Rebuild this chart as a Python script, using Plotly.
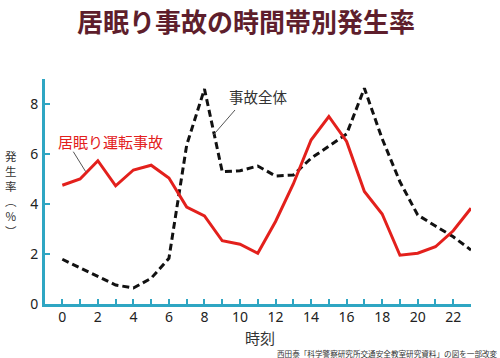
import plotly.graph_objects as go

hours = list(range(24))
drowsy = [4.75, 5.0, 5.73, 4.73, 5.36, 5.55, 5.04, 3.88, 3.52, 2.53, 2.39, 2.03,
          3.3, 4.8, 6.56, 7.5, 6.5, 4.5, 3.6, 1.95, 2.03, 2.29, 2.93, 3.83]
overall = [1.79, 1.45, 1.09, 0.76, 0.64, 1.03, 1.83, 6.36, 8.6, 5.29, 5.33, 5.52,
           5.12, 5.16, 5.83, 6.3, 6.8, 8.63, 6.61, 4.89, 3.56, 3.12, 2.69, 2.16]
x_tick_vals = list(range(0, 23, 2))
y_tick_vals = [0, 2, 4, 6, 8]

W, H = 500, 358
L, R, T, B = 45, 471, 79, 304
TEAL = "#2fa6c3"
RED = "#e3201c"
FONT = "Noto Sans CJK JP"


def px(x, y):
    return (x - L) / (R - L), (B - y) / (B - T)


fig = go.Figure()
fig.add_trace(go.Scatter(x=hours, y=overall, mode="lines", name="事故全体",
                         line=dict(color="#111111", width=3, dash="7px,4px"),
                         cliponaxis=False, hoverinfo="skip"))
fig.add_trace(go.Scatter(x=hours, y=drowsy, mode="lines", name="居眠り運転事故",
                         line=dict(color=RED, width=3), cliponaxis=False, hoverinfo="skip"))

ann = []


def text(s, x, y, size, color, bold=False, angle=0, xanchor="center"):
    ax, ay = px(x, y)
    ann.append(dict(text=f"<b>{s}</b>" if bold else s, x=ax, y=ay, xref="paper", yref="paper",
                    showarrow=False, xanchor=xanchor, yanchor="middle", textangle=angle,
                    font=dict(family=FONT, size=size, color=color)))


text("居眠り事故の時間帯別発生率", 246, 20, 26, "#5e1e2c", bold=True)
text("居眠り運転事故", 110, 141, 15, RED)
text("事故全体", 258.5, 97, 14.5, "#333333")
text("発<br>生<br>率<br>︵<br>%<br>︶", 11, 193, 11.5, "#333333")
text("時刻", 260, 337, 15, "#333333")
text("西田泰「科学警察研究所交通安全教室研究資料」の図を一部改変", 500, 353, 7.6, "#333333",
     xanchor="right")

shapes = []
for (x0, y0, x1, y1) in [(73.3, 151.7, 85.7, 171.7), (235, 110, 213.3, 135)]:
    a0, b0 = px(x0, y0)
    a1, b1 = px(x1, y1)
    shapes.append(dict(type="line", xref="paper", yref="paper", x0=a0, y0=b0, x1=a1, y1=b1,
                       line=dict(color="#555555", width=1)))

fig.update_layout(
    width=W, height=H,
    margin=dict(l=L, r=W - R, t=T, b=H - B, pad=0),
    paper_bgcolor="white", plot_bgcolor="white",
    showlegend=False, hovermode=False,
    annotations=ann, shapes=shapes,
    font=dict(family="Noto Sans", size=14, color="#222222"),
    xaxis=dict(range=[-0.975, 23.0], tickvals=x_tick_vals, ticks="inside", ticklen=5,
               tickwidth=2, tickcolor=TEAL, showline=True, linecolor=TEAL, linewidth=3,
               showgrid=False, zeroline=False, ticklabelstandoff=-2,
               minor=dict(dtick=1, tick0=0, ticks="inside", ticklen=5, tickwidth=2,
                          tickcolor=TEAL, showgrid=False),
               tickfont=dict(family="Noto Sans", size=14, color="#222222")),
    yaxis=dict(range=[0, 9.0], tickvals=y_tick_vals, ticks="inside", ticklen=5,
               tickwidth=2, tickcolor=TEAL, showline=True, linecolor=TEAL, linewidth=3,
               showgrid=False, zeroline=False, ticklabelstandoff=1,
               tickfont=dict(family="Noto Sans", size=14, color="#222222")),
)

fig.write_html("out.html", config={"displayModeBar": False, "staticPlot": True},
               post_script="document.body.style.margin='0px';")
